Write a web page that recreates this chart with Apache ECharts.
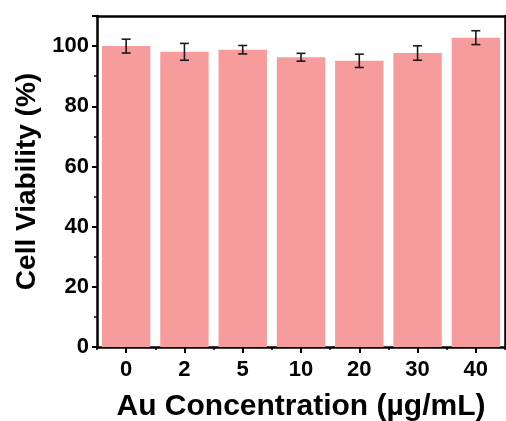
<!DOCTYPE html>
<html>
<head>
<meta charset="utf-8">
<script src="https://cdn.jsdelivr.net/npm/echarts@6/dist/echarts.min.js"></script>
<style>
  html, body { margin: 0; padding: 0; background: #fff; }
  #chart { width: 506px; height: 421px; }
</style>
</head>
<body>
<div id="chart"></div>
<script>
// Au nanoparticle cytotoxicity: viability by concentration
const concentrations = ['0', '2', '5', '10', '20', '30', '40'];
const viability = [100.0, 98.1, 98.8, 96.3, 95.1, 97.7, 102.8];
const viabilityErr = [2.3, 2.8, 1.4, 1.3, 2.2, 2.4, 2.3];
const yTicks = [0, 20, 40, 60, 80, 100];

const FONT = '"Liberation Sans", Arial, sans-serif';
const AXIS_W = 2.5;
const BAR_COLOR = '#F69C9C';

const chart = echarts.init(document.getElementById('chart'), null, { renderer: 'canvas' });

const errData = concentrations.map((c, i) => [i, viability[i] - viabilityErr[i], viability[i] + viabilityErr[i]]);

chart.setOption({
  animation: false,
  backgroundColor: '#fff',
  grid: { left: 97, right: 1, top: 16, bottom: 74, containLabel: false, outerBoundsMode: 'none' },
  xAxis: [
    {
      type: 'category',
      data: concentrations,
      position: 'bottom',
      axisLine: { show: true, lineStyle: { color: '#000', width: AXIS_W } },
      axisTick: { show: true, alignWithLabel: true, length: 6, lineStyle: { color: '#000', width: 2 } },
      axisLabel: { color: '#000', fontFamily: FONT, fontWeight: 'bold', fontSize: 22, margin: 12 },
      name: 'Au Concentration (\u00b5g/mL)',
      nameLocation: 'middle',
      nameGap: 45,
      nameTextStyle: { color: '#000', fontFamily: FONT, fontWeight: 'bold', fontSize: 30 }
    },
    {
      // boundary ticks between categories
      type: 'category',
      data: concentrations,
      position: 'bottom',
      axisLine: { show: false },
      axisTick: { show: true, alignWithLabel: false, length: 3, lineStyle: { color: '#000', width: 1.5 } },
      axisLabel: { show: false }
    },
    {
      // top frame line
      type: 'category',
      data: concentrations,
      position: 'top',
      axisLine: { show: true, lineStyle: { color: '#000', width: AXIS_W } },
      axisTick: { show: false },
      axisLabel: { show: false }
    }
  ],
  yAxis: [
    {
      type: 'value',
      min: 0,
      max: 110,
      interval: 20,
      position: 'left',
      axisLine: { show: true, lineStyle: { color: '#000', width: AXIS_W } },
      axisTick: { show: true, length: 5, lineStyle: { color: '#000', width: 2 } },
      minorTick: { show: true, splitNumber: 2, length: 3, lineStyle: { color: '#000', width: 1.5 } },
      splitLine: { show: false },
      axisLabel: {
        color: '#000', fontFamily: FONT, fontWeight: 'bold', fontSize: 22, margin: 8,
        formatter: v => (yTicks.indexOf(v) >= 0 ? String(v) : '')
      },
      name: 'Cell Viability (%)',
      nameLocation: 'middle',
      nameGap: 55,
      nameRotate: 90,
      nameTextStyle: { color: '#000', fontFamily: FONT, fontWeight: 'bold', fontSize: 28 }
    },
    {
      // right frame line
      type: 'value',
      min: 0,
      max: 110,
      position: 'right',
      axisLine: { show: true, lineStyle: { color: '#000', width: AXIS_W } },
      axisTick: { show: false },
      axisLabel: { show: false },
      splitLine: { show: false }
    }
  ],
  series: [
    {
      type: 'bar',
      data: viability,
      xAxisIndex: 0,
      yAxisIndex: 0,
      barCategoryGap: '17%',
      itemStyle: { color: BAR_COLOR },
      z: 2
    },
    {
      type: 'custom',
      xAxisIndex: 0,
      yAxisIndex: 0,
      data: errData,
      z: 3,
      renderItem: function (params, api) {
        const x = api.value(0);
        const lo = api.coord([x, api.value(1)]);
        const hi = api.coord([x, api.value(2)]);
        const cap = 4.5;
        const style = { stroke: '#1a1a1a', lineWidth: 1.6 };
        return {
          type: 'group',
          children: [
            { type: 'line', shape: { x1: lo[0], y1: lo[1], x2: hi[0], y2: hi[1] }, style },
            { type: 'line', shape: { x1: lo[0] - cap, y1: lo[1], x2: lo[0] + cap, y2: lo[1] }, style },
            { type: 'line', shape: { x1: hi[0] - cap, y1: hi[1], x2: hi[0] + cap, y2: hi[1] }, style }
          ]
        };
      }
    }
  ]
});
</script>
</body>
</html>
